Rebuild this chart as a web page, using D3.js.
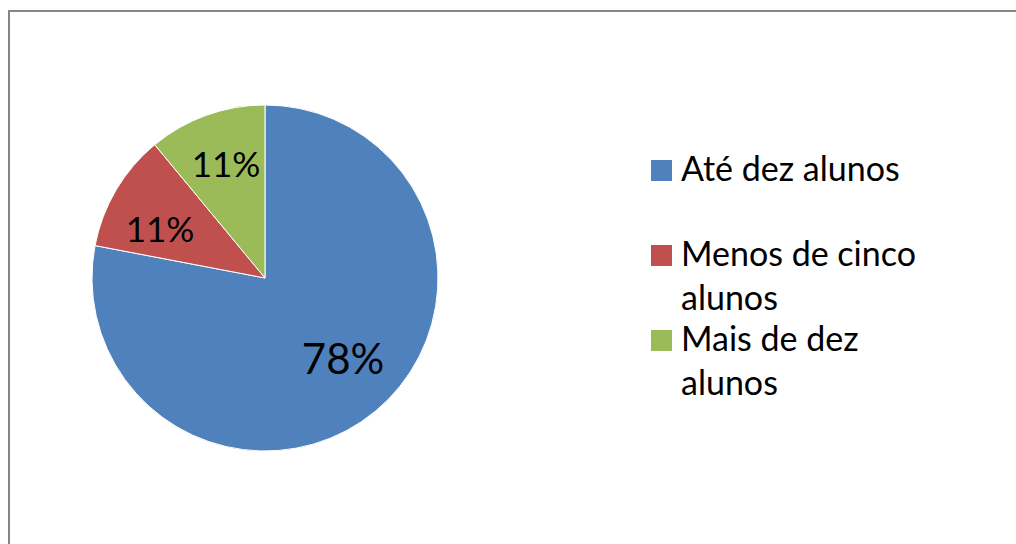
<!DOCTYPE html>
<html><head><meta charset="utf-8">
<script src="https://cdn.jsdelivr.net/npm/d3@7"></script>
<style>body{margin:0;background:#fff}svg{display:block}</style>
</head><body>
<svg id="c" width="1016" height="544"></svg>
<script>
const categories = ["Até dez alunos", "Menos de cinco alunos", "Mais de dez alunos"];
const values = [78, 11, 11];
const labels = ["78%", "11%", "11%"];
const legendLines = [["Até dez alunos"], ["Menos de cinco", "alunos"], ["Mais de dez", "alunos"]];
const colors = ["#4F81BD", "#C0504D", "#9BBB59"];

const svg = d3.select("#c");
const font = "Lato, 'Open Sans', sans-serif";
svg.append("rect").attr("x", 9).attr("y", 11).attr("width", 1020).attr("height", 560)
  .attr("fill", "#fff").attr("stroke", "#868686").attr("stroke-width", 2);

const cx = 265, cy = 278, r = 173;
const pie = d3.pie().sort(null).value(d => d);
const arcs = pie(values);
const arc = d3.arc().innerRadius(0).outerRadius(r);
const g = svg.append("g").attr("transform", `translate(${cx},${cy})`);
g.selectAll("path").data(arcs).join("path")
  .attr("d", arc).attr("fill", (d, i) => colors[i])
  .attr("stroke", "#fff").attr("stroke-width", 1);

const labelPos = [[78, 80, 42], [-105, -50, 35], [-39, -115, 35]];
g.selectAll("text").data(arcs).join("text")
  .attr("x", (d, i) => labelPos[i][0]).attr("y", (d, i) => labelPos[i][1])
  .attr("text-anchor", "middle").attr("dominant-baseline", "central")
  .attr("font-family", font).attr("font-size", (d, i) => labelPos[i][2])
  .attr("fill", "#000").text((d, i) => labels[i]);

const legY = [160, 245, 330];
const leg = svg.append("g");
legendLines.forEach((lines, i) => {
  leg.append("rect").attr("x", 651).attr("y", legY[i]).attr("width", 21).attr("height", 21).attr("fill", colors[i]);
  lines.forEach((t, j) => {
    leg.append("text").attr("x", 681).attr("y", legY[i] + 21 + j * 44)
      .attr("font-family", font).attr("font-size", 34).attr("fill", "#000").text(t);
  });
});
</script>
</body></html>
